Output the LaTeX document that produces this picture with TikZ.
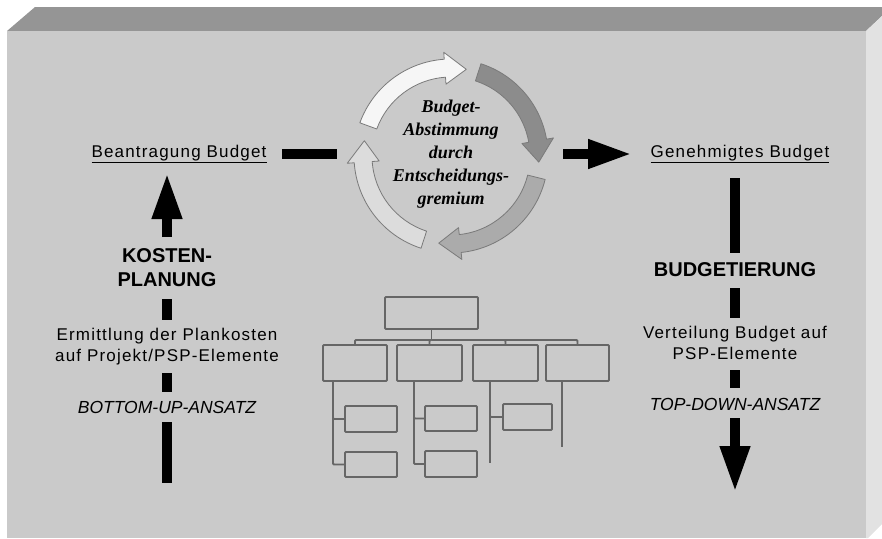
\documentclass[tikz,border=0pt]{standalone}
\usepackage{fontspec}
\setmainfont{Liberation Sans}
\newfontfamily\circfont{Liberation Serif}
\usetikzlibrary{arrows.meta}

\definecolor{topface}{HTML}{959595}
\definecolor{frontface}{HTML}{CACACA}
\definecolor{sideface}{HTML}{E2E2E2}
\definecolor{orgline}{HTML}{666666}
\definecolor{ringedge}{HTML}{7A7A7A}
\definecolor{ringA}{HTML}{F6F6F6}
\definecolor{ringB}{HTML}{8C8C8C}
\definecolor{ringC}{HTML}{ABABAB}
\definecolor{ringD}{HTML}{DCDCDC}

% curved block arrow on the ring, running clockwise from angle #1 to tip angle #2
\newcommand\ringarrow[3]{%
  \filldraw[fill=#3, draw=ringedge, line width=0.8pt, line join=round]
    (#1:97) arc[start angle=#1, end angle={#2+14}, radius=97]
    -- ({#2+14}:104) -- (#2:88) -- ({#2+14}:72) -- ({#2+14}:79)
    arc[start angle={#2+14}, end angle=#1, radius=79] -- cycle;}

\begin{document}
\begin{tikzpicture}[x=1pt, y=-1pt,
  lbl/.style={align=center, inner sep=0,
    font=\fontsize{17}{21}\selectfont\addfontfeatures{LetterSpace=7}},
  heading/.style={align=center, inner sep=0,
    font=\fontsize{20}{24}\selectfont\bfseries},
  approach/.style={inner sep=0, font=\fontsize{17.5}{20}\selectfont\itshape},
  circtext/.style={align=center, inner sep=0,
    font=\fontsize{18}{23}\selectfont\circfont\bfseries\itshape},
  bar/.style={line width=10pt, black},
  bigarrow/.style={line width=10pt, black, -{Triangle[width=28pt,length=46pt]}},
  org/.style={draw=orgline, line width=1.8pt, rounded corners=1pt},
  orgbox/.style={org, inner sep=0},
]
\useasboundingbox (0,0) rectangle (882,538);

% the block: top, front and right faces
\fill[topface] (7,31) -- (35,7) -- (882,7) -- (882,16) -- (866,31) -- cycle;
\fill[sideface] (866,31) -- (882,16) -- (882,524) -- (868,538) -- (866,538) -- cycle;
\fill[frontface] (7,31) rectangle (866,538);

% approval cycle
\begin{scope}[shift={(451,156)}, yscale=-1]
  \ringarrow{160}{80}{ringA}
  \ringarrow{72}{-4}{ringB}
  \ringarrow{-14}{-98}{ringC}
  \ringarrow{-108}{-190}{ringD}
\end{scope}
\node[circtext] (gremium) at (451,154)
  {Budget-\\Abstimmung\\durch\\Entscheidungs-\\gremium};

% left column: cost planning (bottom-up)
\node[lbl] (antrag) at (179,154) {\underline{Beantragung Budget}};
\node[heading] (kosten) at (167,268) {KOSTEN-\\PLANUNG};
\node[lbl] (ermitt) at (167,347) {Ermittlung der Plankosten\\auf Projekt/PSP-Elemente};
\node[approach] (bottomup) at (167,407) {BOTTOM-UP-ANSATZ};
\coordinate (leftfoot) at (167,483);

\draw[bigarrow, shorten <=31pt, shorten >=19pt] (kosten.center) -- (antrag.center -| kosten.center);
\draw[bar, shorten <=31pt, shorten >=27pt] (kosten.center) -- (ermitt.center);
\draw[bar, shorten <=26pt, shorten >=15pt] (ermitt.center) -- (bottomup.center);
\draw[bar, shorten <=15pt] (bottomup.center) -- (leftfoot);

% right column: budgeting (top-down)
\node[lbl] (genehm) at (740,154) {\underline{Genehmigtes Budget}};
\node[heading] (budgetier) at (735,270) {BUDGETIERUNG};
\node[lbl] (verteil) at (735,343) {Verteilung Budget auf\\PSP-Elemente};
\node[approach] (topdown) at (735,404) {TOP-DOWN-ANSATZ};
\coordinate (rightfoot) at (735,492);

\draw[bar, shorten <=24pt, shorten >=17pt] (genehm.center -| budgetier.center) -- (budgetier.center);
\draw[bar, shorten <=18pt, shorten >=25pt] (budgetier.center) -- (verteil.center);
\draw[bar, shorten <=27pt, shorten >=16pt] (verteil.center) -- (topdown.center);
\draw[bigarrow, shorten <=14pt] (topdown.center) -- (rightfoot);

% links between the columns and the cycle
\draw[bar, shorten <=103pt, shorten >=114pt] (antrag.center) -- (gremium.center);
\draw[line width=10pt, black, -{Triangle[width=27pt,length=44pt]},
      shorten <=112pt, shorten >=108pt] (gremium.center) -- (genehm.center);

% work breakdown structure
\node[orgbox, minimum width=93pt, minimum height=32pt] (top) at (431.5,313) {};
\node[orgbox, minimum width=64pt, minimum height=36pt] (b1) at (355,363) {};
\node[orgbox, minimum width=65pt, minimum height=36pt] (b2) at (429.5,363) {};
\node[orgbox, minimum width=65pt, minimum height=36pt] (b3) at (505.5,363) {};
\node[orgbox, minimum width=63pt, minimum height=36pt] (b4) at (577.5,363) {};
\node[orgbox, minimum width=52pt, minimum height=26pt] (c11) at (371,419) {};
\node[orgbox, minimum width=52pt, minimum height=25pt] (c12) at (371,464.5) {};
\node[orgbox, minimum width=52pt, minimum height=25pt] (c21) at (451,418.5) {};
\node[orgbox, minimum width=52pt, minimum height=26pt] (c22) at (451,464) {};
\node[orgbox, minimum width=49pt, minimum height=26pt] (c31) at (527.5,417) {};

\coordinate (bus) at (431.5,340);
\draw[org] (top.south) -- (bus);
\draw[org] (b1.north) |- (bus);
\draw[org] (b2.north) |- (bus);
\draw[org] (b3.north) |- (bus);
\draw[org] (b4.north) |- (bus);

\draw[org] ([xshift=-22pt]b1.south) |- (c11.west);
\draw[org] ([xshift=-22pt]b1.south) |- (c12.west);
\draw[org] ([xshift=-15.5pt]b2.south) |- (c21.west);
\draw[org] ([xshift=-15.5pt]b2.south) |- (c22.west);
\draw[org] ([xshift=-15.5pt]b3.south) |- (c31.west);
\coordinate (b3end) at (490,463);
\draw[org] (b3end |- b3.south) -- (b3end);
\coordinate (b4end) at (562,447);
\draw[org] (b4end |- b4.south) -- (b4end);
\end{tikzpicture}
\end{document}
